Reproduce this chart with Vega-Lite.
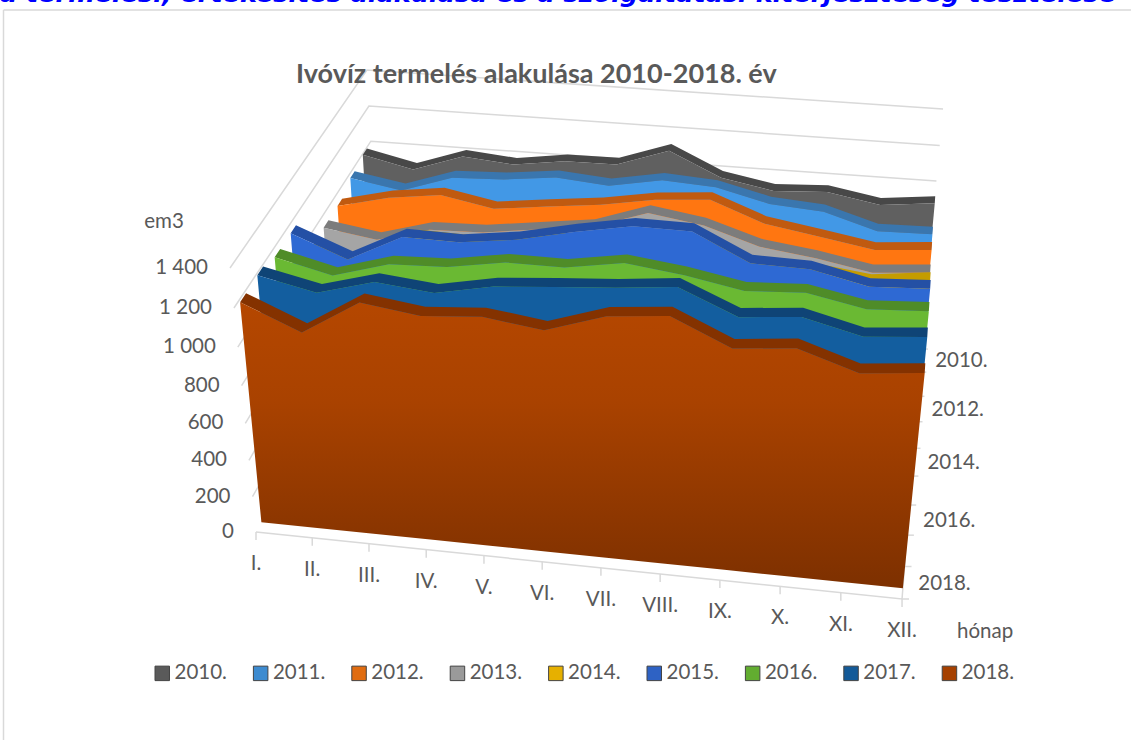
{
"$schema":"https://vega.github.io/schema/vega-lite/v6.json",
"width":1131,"height":740,"padding":0,"autosize":"none",
"background":"white",
"config":{"view":{"stroke":null}},
"title":{"text":"Ivóvíz termelés alakulása 2010-2018. év","anchor":"start","frame":"group","dx":296,"offset":-107,"font":"Lato","fontSize":27,"fontWeight":"bold","color":"#595959"},
"data":{"values":[
{"kind":"series","year":2010,"m":1,"value":994},{"kind":"series","year":2010,"m":2,"value":931},{"kind":"series","year":2010,"m":3,"value":1025},{"kind":"series","year":2010,"m":4,"value":1000},{"kind":"series","year":2010,"m":5,"value":1040},{"kind":"series","year":2010,"m":6,"value":1042},{"kind":"series","year":2010,"m":7,"value":1140},{"kind":"series","year":2010,"m":8,"value":1010},{"kind":"series","year":2010,"m":9,"value":957},{"kind":"series","year":2010,"m":10,"value":972},{"kind":"series","year":2010,"m":11,"value":921},{"kind":"series","year":2010,"m":12,"value":953},
{"kind":"series","year":2011,"m":1,"value":974},{"kind":"series","year":2011,"m":2,"value":925},{"kind":"series","year":2011,"m":3,"value":1018},{"kind":"series","year":2011,"m":4,"value":1030},{"kind":"series","year":2011,"m":5,"value":1062},{"kind":"series","year":2011,"m":6,"value":1038},{"kind":"series","year":2011,"m":7,"value":1090},{"kind":"series","year":2011,"m":8,"value":1072},{"kind":"series","year":2011,"m":9,"value":1002},{"kind":"series","year":2011,"m":10,"value":980},{"kind":"series","year":2011,"m":11,"value":895},{"kind":"series","year":2011,"m":12,"value":900},
{"kind":"series","year":2012,"m":1,"value":933},{"kind":"series","year":2012,"m":2,"value":1001},{"kind":"series","year":2012,"m":3,"value":1038},{"kind":"series","year":2012,"m":4,"value":984},{"kind":"series","year":2012,"m":5,"value":1018},{"kind":"series","year":2012,"m":6,"value":1050},{"kind":"series","year":2012,"m":7,"value":1100},{"kind":"series","year":2012,"m":8,"value":1122},{"kind":"series","year":2012,"m":9,"value":1014},{"kind":"series","year":2012,"m":10,"value":966},{"kind":"series","year":2012,"m":11,"value":916},{"kind":"series","year":2012,"m":12,"value":940},
{"kind":"series","year":2013,"m":1,"value":933},{"kind":"series","year":2013,"m":2,"value":889},{"kind":"series","year":2013,"m":3,"value":968},{"kind":"series","year":2013,"m":4,"value":976},{"kind":"series","year":2013,"m":5,"value":1014},{"kind":"series","year":2013,"m":6,"value":1052},{"kind":"series","year":2013,"m":7,"value":1150},{"kind":"series","year":2013,"m":8,"value":1105},{"kind":"series","year":2013,"m":9,"value":1014},{"kind":"series","year":2013,"m":10,"value":975},{"kind":"series","year":2013,"m":11,"value":921},{"kind":"series","year":2013,"m":12,"value":945},
{"kind":"series","year":2014,"m":1,"value":930},{"kind":"series","year":2014,"m":2,"value":850},{"kind":"series","year":2014,"m":3,"value":1050},{"kind":"series","year":2014,"m":4,"value":1040},{"kind":"series","year":2014,"m":5,"value":1080},{"kind":"series","year":2014,"m":6,"value":1100},{"kind":"series","year":2014,"m":7,"value":1120},{"kind":"series","year":2014,"m":8,"value":1130},{"kind":"series","year":2014,"m":9,"value":1010},{"kind":"series","year":2014,"m":10,"value":1035},{"kind":"series","year":2014,"m":11,"value":1000},{"kind":"series","year":2014,"m":12,"value":1034},
{"kind":"series","year":2015,"m":1,"value":1152},{"kind":"series","year":2015,"m":2,"value":1036},{"kind":"series","year":2015,"m":3,"value":1179},{"kind":"series","year":2015,"m":4,"value":1174},{"kind":"series","year":2015,"m":5,"value":1211},{"kind":"series","year":2015,"m":6,"value":1275},{"kind":"series","year":2015,"m":7,"value":1327},{"kind":"series","year":2015,"m":8,"value":1324},{"kind":"series","year":2015,"m":9,"value":1184},{"kind":"series","year":2015,"m":10,"value":1177},{"kind":"series","year":2015,"m":11,"value":1111},{"kind":"series","year":2015,"m":12,"value":1126},
{"kind":"series","year":2016,"m":1,"value":1153},{"kind":"series","year":2016,"m":2,"value":1081},{"kind":"series","year":2016,"m":3,"value":1165},{"kind":"series","year":2016,"m":4,"value":1174},{"kind":"series","year":2016,"m":5,"value":1222},{"kind":"series","year":2016,"m":6,"value":1220},{"kind":"series","year":2016,"m":7,"value":1267},{"kind":"series","year":2016,"m":8,"value":1229},{"kind":"series","year":2016,"m":9,"value":1174},{"kind":"series","year":2016,"m":10,"value":1189},{"kind":"series","year":2016,"m":11,"value":1130},{"kind":"series","year":2016,"m":12,"value":1146},
{"kind":"series","year":2017,"m":1,"value":1190},{"kind":"series","year":2017,"m":2,"value":1124},{"kind":"series","year":2017,"m":3,"value":1204},{"kind":"series","year":2017,"m":4,"value":1173},{"kind":"series","year":2017,"m":5,"value":1230},{"kind":"series","year":2017,"m":6,"value":1253},{"kind":"series","year":2017,"m":7,"value":1273},{"kind":"series","year":2017,"m":8,"value":1302},{"kind":"series","year":2017,"m":9,"value":1176},{"kind":"series","year":2017,"m":10,"value":1203},{"kind":"series","year":2017,"m":11,"value":1129},{"kind":"series","year":2017,"m":12,"value":1154},
{"kind":"series","year":2018,"m":1,"value":1185},{"kind":"series","year":2018,"m":2,"value":1056},{"kind":"series","year":2018,"m":3,"value":1233},{"kind":"series","year":2018,"m":4,"value":1191},{"kind":"series","year":2018,"m":5,"value":1212},{"kind":"series","year":2018,"m":6,"value":1171},{"kind":"series","year":2018,"m":7,"value":1266},{"kind":"series","year":2018,"m":8,"value":1292},{"kind":"series","year":2018,"m":9,"value":1158},{"kind":"series","year":2018,"m":10,"value":1186},{"kind":"series","year":2018,"m":11,"value":1089},{"kind":"series","year":2018,"m":12,"value":1117},
{"kind":"grid","value":200,"m":1,"b":0,"seq":1},{"kind":"grid","value":200,"m":1,"b":9,"seq":2},{"kind":"grid","value":200,"m":12,"b":9,"seq":3},
{"kind":"grid","value":400,"m":1,"b":0,"seq":1},{"kind":"grid","value":400,"m":1,"b":9,"seq":2},{"kind":"grid","value":400,"m":12,"b":9,"seq":3},
{"kind":"grid","value":600,"m":1,"b":0,"seq":1},{"kind":"grid","value":600,"m":1,"b":9,"seq":2},{"kind":"grid","value":600,"m":12,"b":9,"seq":3},
{"kind":"grid","value":800,"m":1,"b":0,"seq":1},{"kind":"grid","value":800,"m":1,"b":9,"seq":2},{"kind":"grid","value":800,"m":12,"b":9,"seq":3},
{"kind":"grid","value":1000,"m":1,"b":0,"seq":1},{"kind":"grid","value":1000,"m":1,"b":9,"seq":2},{"kind":"grid","value":1000,"m":12,"b":9,"seq":3},
{"kind":"grid","value":1200,"m":1,"b":0,"seq":1},{"kind":"grid","value":1200,"m":1,"b":9,"seq":2},{"kind":"grid","value":1200,"m":12,"b":9,"seq":3},
{"kind":"grid","value":1400,"m":1,"b":0,"seq":1},{"kind":"grid","value":1400,"m":1,"b":9,"seq":2},{"kind":"grid","value":1400,"m":12,"b":9,"seq":3},
{"kind":"floor","value":0,"m":1,"b":0,"seq":1},{"kind":"floor","value":0,"m":12,"b":0,"seq":2},{"kind":"floor","value":0,"m":12,"b":9,"seq":3},
{"kind":"mlabel","value":0,"b":0,"m":1,"label":"I."},{"kind":"mlabel","value":0,"b":0,"m":2,"label":"II."},{"kind":"mlabel","value":0,"b":0,"m":3,"label":"III."},{"kind":"mlabel","value":0,"b":0,"m":4,"label":"IV."},{"kind":"mlabel","value":0,"b":0,"m":5,"label":"V."},{"kind":"mlabel","value":0,"b":0,"m":6,"label":"VI."},{"kind":"mlabel","value":0,"b":0,"m":7,"label":"VII."},{"kind":"mlabel","value":0,"b":0,"m":8,"label":"VIII."},{"kind":"mlabel","value":0,"b":0,"m":9,"label":"IX."},{"kind":"mlabel","value":0,"b":0,"m":10,"label":"X."},{"kind":"mlabel","value":0,"b":0,"m":11,"label":"XI."},{"kind":"mlabel","value":0,"b":0,"m":12,"label":"XII."},
{"kind":"ytick","value":0,"m":12,"b":0},{"kind":"ytick","value":0,"m":12,"b":1},{"kind":"ytick","value":0,"m":12,"b":2},{"kind":"ytick","value":0,"m":12,"b":3},{"kind":"ytick","value":0,"m":12,"b":4},{"kind":"ytick","value":0,"m":12,"b":5},{"kind":"ytick","value":0,"m":12,"b":6},{"kind":"ytick","value":0,"m":12,"b":7},{"kind":"ytick","value":0,"m":12,"b":8},{"kind":"ytick","value":0,"m":12,"b":9},
{"kind":"ylabel","value":0,"m":12,"b":0.5,"label":"2018."},{"kind":"ylabel","value":0,"m":12,"b":2.5,"label":"2016."},{"kind":"ylabel","value":0,"m":12,"b":4.5,"label":"2014."},{"kind":"ylabel","value":0,"m":12,"b":6.5,"label":"2012."},{"kind":"ylabel","value":0,"m":12,"b":8.5,"label":"2010."},
{"kind":"vlabel","value":0,"m":1,"b":0,"label":"0"},{"kind":"vlabel","value":200,"m":1,"b":0,"label":"200"},{"kind":"vlabel","value":400,"m":1,"b":0,"label":"400"},{"kind":"vlabel","value":600,"m":1,"b":0,"label":"600"},{"kind":"vlabel","value":800,"m":1,"b":0,"label":"800"},{"kind":"vlabel","value":1000,"m":1,"b":0,"label":"1 000"},{"kind":"vlabel","value":1200,"m":1,"b":0,"label":"1 200"},{"kind":"vlabel","value":1400,"m":1,"b":0,"label":"1 400"},
{"kind":"vtitle","value":1400,"m":1,"b":0,"label":"em3"},
{"kind":"mtitle","value":0,"m":12,"b":0,"label":"hónap"}
]},
"transform":[
{"calculate":"datum.kind=='series'?['face','base','strip','back']:[datum.kind]","as":"part"},
{"flatten":["part"]},
{"calculate":"datum.kind=='series'?(2018-datum.year)+(datum.part=='back'?0.67:0.33):datum.b","as":"d"},
{"calculate":"datum.part=='base'?0:datum.value/1400","as":"n"},
{"calculate":"0.08668*(datum.m-1)+0.000385*(datum.m-1)*(datum.m-1)","as":"u"},
{"calculate":"0.1324*datum.d-0.00237*datum.d*datum.d","as":"s"},
{"calculate":"datum.n*(0.93+0.07*datum.n)","as":"h"},
{"calculate":"(1-datum.s)*(256+646*datum.u)+datum.s*(380+541*datum.u)+((1-datum.s)*(-26+54*datum.u)+datum.s*(-13+35*datum.u))*datum.h","as":"px"},
{"calculate":"(1-datum.s)*(532+67*datum.u)+datum.s*(307+42*datum.u)-((1-datum.s)*(264+11*datum.u)+datum.s*(237+3*datum.u))*datum.h","as":"py"},
{"calculate":"datum.kind=='series'?((datum.part=='base'||datum.part=='back')?100-datum.m:datum.m):datum.seq","as":"ord"},
{"calculate":"datum.py+8","as":"py2"},
{"calculate":"datum.px+7","as":"px2"},
{"calculate":"datum.year+'.'","as":"series"}
],
"encoding":{
"x":{"field":"px","type":"quantitative","scale":{"domain":[0,1131],"range":[0,1131],"nice":false,"zero":false},"axis":null},
"y":{"field":"py","type":"quantitative","scale":{"domain":[0,740],"range":[0,740],"nice":false,"zero":false},"axis":null},
"order":{"field":"ord","type":"quantitative"}
},
"layer":[
{"transform":[{"filter":"datum.kind=='grid'"}],"mark":{"type":"line","stroke":"#d9d9d9","strokeWidth":1.5},"encoding":{"detail":{"field":"value","type":"nominal"}}},
{"transform":[{"filter":"datum.kind=='floor'"}],"mark":{"type":"line","stroke":"#d9d9d9","strokeWidth":1.5}},
{"transform":[{"filter":"datum.kind=='mlabel'"}],"mark":{"type":"rule","stroke":"#d9d9d9","strokeWidth":1.5},"encoding":{"y2":{"field":"py2"},"order":null}},
{"transform":[{"filter":"datum.kind=='ytick'"}],"mark":{"type":"rule","stroke":"#d9d9d9","strokeWidth":1.5},"encoding":{"x2":{"field":"px2"},"order":null}},
{"transform":[{"filter":"datum.year==2010&&(datum.part=='strip'||datum.part=='back')"}],"mark":{"type":"line","fill":"#484848","strokeWidth":0}},
{"transform":[{"filter":"datum.year==2010&&(datum.part=='face'||datum.part=='base')"}],"mark":{"type":"line","fill":"#606060","strokeWidth":0}},
{"transform":[{"filter":"datum.year==2011&&(datum.part=='strip'||datum.part=='back')"}],"mark":{"type":"line","fill":"#3a76ae","strokeWidth":0}},
{"transform":[{"filter":"datum.year==2011&&(datum.part=='face'||datum.part=='base')"}],"mark":{"type":"line","fill":"#4298e6","strokeWidth":0}},
{"transform":[{"filter":"datum.year==2012&&(datum.part=='strip'||datum.part=='back')"}],"mark":{"type":"line","fill":"#c05a10","strokeWidth":0}},
{"transform":[{"filter":"datum.year==2012&&(datum.part=='face'||datum.part=='base')"}],"mark":{"type":"line","fill":"#ff7611","strokeWidth":0}},
{"transform":[{"filter":"datum.year==2013&&(datum.part=='strip'||datum.part=='back')"}],"mark":{"type":"line","fill":"#7c7c7c","strokeWidth":0}},
{"transform":[{"filter":"datum.year==2013&&(datum.part=='face'||datum.part=='base')"}],"mark":{"type":"line","fill":"#a5a5a5","strokeWidth":0}},
{"transform":[{"filter":"datum.year==2014&&(datum.part=='strip'||datum.part=='back')"}],"mark":{"type":"line","fill":"#c49c00","strokeWidth":0}},
{"transform":[{"filter":"datum.year==2014&&(datum.part=='face'||datum.part=='base')"}],"mark":{"type":"line","fill":"#ffc000","strokeWidth":0}},
{"transform":[{"filter":"datum.year==2015&&(datum.part=='strip'||datum.part=='back')"}],"mark":{"type":"line","fill":"#2450a5","strokeWidth":0}},
{"transform":[{"filter":"datum.year==2015&&(datum.part=='face'||datum.part=='base')"}],"mark":{"type":"line","fill":"#2e69d3","strokeWidth":0}},
{"transform":[{"filter":"datum.year==2016&&(datum.part=='strip'||datum.part=='back')"}],"mark":{"type":"line","fill":"#4f8c28","strokeWidth":0}},
{"transform":[{"filter":"datum.year==2016&&(datum.part=='face'||datum.part=='base')"}],"mark":{"type":"line","fill":"#6ab933","strokeWidth":0}},
{"transform":[{"filter":"datum.year==2017&&(datum.part=='strip'||datum.part=='back')"}],"mark":{"type":"line","fill":"#0f4476","strokeWidth":0}},
{"transform":[{"filter":"datum.year==2017&&(datum.part=='face'||datum.part=='base')"}],"mark":{"type":"line","fill":"#135e9f","strokeWidth":0}},
{"transform":[{"filter":"datum.year==2018&&(datum.part=='strip'||datum.part=='back')"}],"mark":{"type":"line","fill":"#843200","strokeWidth":0}},
{"transform":[{"filter":"datum.year==2018&&(datum.part=='face'||datum.part=='base')"}],"mark":{"type":"line","strokeWidth":0,"fill":{"gradient":"linear","x1":0,"y1":0,"x2":0,"y2":1,"stops":[{"offset":0,"color":"#b54700"},{"offset":0.35,"color":"#a94200"},{"offset":1,"color":"#7d3000"}]}}},
{"transform":[{"filter":"datum.kind=='vlabel'"}],"mark":{"type":"text","align":"right","baseline":"middle","dx":-22,"font":"Lato","fontSize":20.5,"color":"#595959"},"encoding":{"text":{"field":"label"},"order":null}},
{"transform":[{"filter":"datum.kind=='mlabel'"}],"mark":{"type":"text","align":"center","baseline":"middle","dy":32,"font":"Lato","fontSize":20.5,"color":"#595959"},"encoding":{"text":{"field":"label"},"order":null}},
{"transform":[{"filter":"datum.kind=='ylabel'"}],"mark":{"type":"text","align":"left","baseline":"middle","dx":15,"dy":1,"font":"Lato","fontSize":20.5,"color":"#595959"},"encoding":{"text":{"field":"label"},"order":null}},
{"transform":[{"filter":"datum.kind=='vtitle'"}],"mark":{"type":"text","align":"center","baseline":"middle","dx":-66,"dy":-46,"font":"Lato","fontSize":20.5,"color":"#595959"},"encoding":{"text":{"field":"label"},"order":null}},
{"transform":[{"filter":"datum.kind=='mtitle'"}],"mark":{"type":"text","align":"center","baseline":"middle","dx":83,"dy":33,"font":"Lato","fontSize":20.5,"color":"#595959"},"encoding":{"text":{"field":"label"},"order":null}},
{"transform":[{"filter":"datum.kind=='series'&&datum.part=='face'&&datum.m==1"}],"mark":{"type":"square","size":0},
"encoding":{"order":null,"fill":{"field":"series","type":"nominal","scale":{"domain":["2010.","2011.","2012.","2013.","2014.","2015.","2016.","2017.","2018."],"range":["#5a5a5a","#3d8bd0","#e06c10","#9a9a9a","#e6b000","#2e62c4","#62ad30","#135a98","#a54000"]},
"legend":{"title":null,"orient":"none","legendX":152,"legendY":663,"direction":"horizontal","columns":9,"symbolType":"square","symbolSize":210,"symbolStrokeColor":"#444444","symbolStrokeWidth":1,"labelFont":"Lato","labelFontSize":20.5,"labelColor":"#595959","labelOffset":2,"columnPadding":23.4,"labelLimit":100,"symbolOpacity":1}}}},
{"mark":{"type":"text","text":"a termelési, értékesítés alakulása és a szolgáltatási kiterjesztéseg tesztelése","align":"left","baseline":"alphabetic","font":"DejaVu Sans","fontWeight":"bold","fontStyle":"italic","fontSize":25.5,"color":"#0000ff"},"data":{"values":[{"a":1}]},"transform":[],"encoding":{"x":{"value":0},"y":{"value":2},"order":null}},
{"mark":{"type":"rule","stroke":"#d9d9d9","strokeWidth":1.5},"data":{"values":[{"a":1}]},"transform":[],"encoding":{"x":{"value":3.5},"y":{"value":10},"y2":{"value":740},"order":null}},
{"mark":{"type":"rule","stroke":"#d9d9d9","strokeWidth":1.5},"data":{"values":[{"a":1}]},"transform":[],"encoding":{"x":{"value":3.5},"x2":{"value":1131},"y":{"value":10},"order":null}}
]
}
